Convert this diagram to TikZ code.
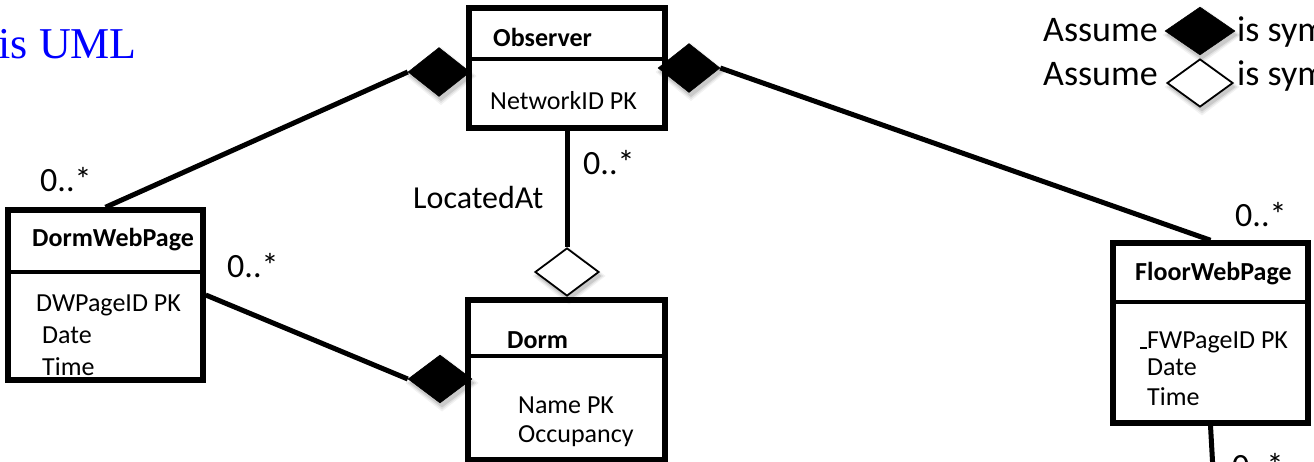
\documentclass[tikz,border=0pt]{standalone}
\usepackage{fontspec}
\setmainfont{Carlito}
\newfontfamily\headserif{Liberation Serif}
\usetikzlibrary{shapes.geometric}

\tikzset{
  umlbox/.style={draw=black, line width=5.5pt, inner sep=0pt, fill=white},
  divider/.style={line width=4.5pt},
  conn/.style={line width=5pt},
  comp/.style={diamond, fill=black, draw=black, line width=0.5pt, inner sep=0pt,
      minimum width=62pt, minimum height=49pt},
  aggr/.style={diamond, fill=white, draw=black, line width=1.8pt, inner sep=0pt,
      minimum width=64pt, minimum height=48pt},
  title/.style={anchor=base west, inner sep=0pt, font=\bfseries\fontsize{26}{30}\selectfont},
  attr/.style={anchor=base west, inner sep=0pt, font=\fontsize{26}{30}\selectfont},
  mult/.style={anchor=base west, inner sep=0pt, font=\fontsize{34}{40}\selectfont},
  legend/.style={anchor=base west, inner sep=0pt, font=\fontsize{36}{40}\selectfont},
}

% soft drop shadow under a diamond: centre x, centre y, width, height
\newcommand\diamondshade[4]{%
  \foreach \g/\o in {9/0.05,5/0.07,1/0.10}{%
    \fill[black, opacity=\o]
      ({#1+2-(#3+\g)/2},{#2+4}) -- ({#1+2},{#2+4-(#4+\g)/2}) --
      ({#1+2+(#3+\g)/2},{#2+4}) -- ({#1+2},{#2+4+(#4+\g)/2}) -- cycle;}%
}

\begin{document}
\begin{tikzpicture}[x=1pt, y=-1pt]
\useasboundingbox (0,0) rectangle (1314,462);
\clip (0,0) rectangle (1314,462);

% heading
\node[anchor=base east, inner sep=0pt, text=blue,
      font=\headserif\fontsize{44}{50}\selectfont] (head) at (137,59) {is UML};

% class boxes
\node[umlbox, minimum width=196pt, minimum height=120pt] (obs)  at (567,68)    {};
\node[umlbox, minimum width=195pt, minimum height=170pt] (dwp)  at (105.5,295) {};
\node[umlbox, minimum width=197pt, minimum height=160pt] (dorm) at (566.5,380) {};
\node[umlbox, minimum width=195pt, minimum height=180pt] (fwp)  at (1210.5,333) {};

% compartment dividers
\draw[divider] (obs.west |- 0,59)   -- (obs.east |- 0,59);
\draw[divider] (dwp.west |- 0,272)  -- (dwp.east |- 0,272);
\draw[divider] (dorm.west |- 0,356) -- (dorm.east |- 0,356);
\draw[divider] (fwp.west |- 0,302)  -- (fwp.east |- 0,302);

% shadows of the association diamonds
\diamondshade{439}{72}{62}{49}
\diamondshade{689}{68}{62}{49}
\diamondshade{440}{379}{64}{48}
\diamondshade{567}{272}{64}{48}

% association ends
\coordinate (fwpTail) at (1213,470);
\node[comp] (dObsL) at (439,72)  {};
\node[comp] (dObsR) at (689,68)  {};
\node[comp, minimum width=64pt, minimum height=48pt] (dDorm) at (440,379) {};
\node[aggr] (aDorm) at (567,272) {};

% connectors
\draw[conn] (dObsL.west) -- (dwp.north);
\draw[conn] (dObsR.east) -- (fwp.north);
\draw[conn] (obs.south) -- (aDorm.north);
\draw[conn] (dwp.east) -- (dDorm.west);
\draw[conn] (fwp.south) -- (fwpTail);

% class texts
\node[title] (tObs)  at (493,47)  {Observer};
\node[attr]  (aObs)  at (490,110) {NetworkID PK};

\node[title] (tDwp)  at (32,247)  {DormWebPage};
\node[attr]  (aDwp1) at (36,312)  {DWPageID PK};
\node[attr]  (aDwp2) at (42,343)  {Date};
\node[attr]  (aDwp3) at (42,375)  {Time};

\node[title] (tDorm)  at (507,348) {Dorm};
\node[attr]  (aDorm1) at (518,413) {Name PK};
\node[attr]  (aDorm2) at (518,442) {Occupancy};

\node[title] (tFwp)  at (1135,280) {FloorWebPage};
\node[attr]  (aFwp1) at (1140,348) {\rule[-1pt]{7pt}{1.6pt}FWPageID PK};
\node[attr]  (aFwp2) at (1147,375) {Date};
\node[attr]  (aFwp3) at (1147,405) {Time};

% multiplicities and role name
\node[mult] (m1) at (40,192)   {0..*};
\node[mult] (m2) at (227,277)  {0..*};
\node[mult] (m3) at (583,175)  {0..*};
\node[mult] (m4) at (1235,227) {0..*};
\node[mult] (m5) at (1232,477) {0..*};
\node[anchor=base west, inner sep=0pt, font=\fontsize{32}{38}\selectfont] (loc) at (413,209) {LocatedAt};

% legend
\diamondshade{1200}{31}{70}{48}
\diamondshade{1200}{83}{66}{48}
\node[legend] (lg1) at (1043,42) {Assume};
\node[comp, minimum width=70pt, minimum height=48pt] (lgc) at (1200,31) {};
\node[legend] (lg1b) at (1237,42) {is sym};
\node[legend] (lg2) at (1043,86) {Assume};
\node[aggr, minimum width=66pt, minimum height=48pt] (lga) at (1200,83) {};
\node[legend] (lg2b) at (1237,86) {is sym};
\end{tikzpicture}
\end{document}
